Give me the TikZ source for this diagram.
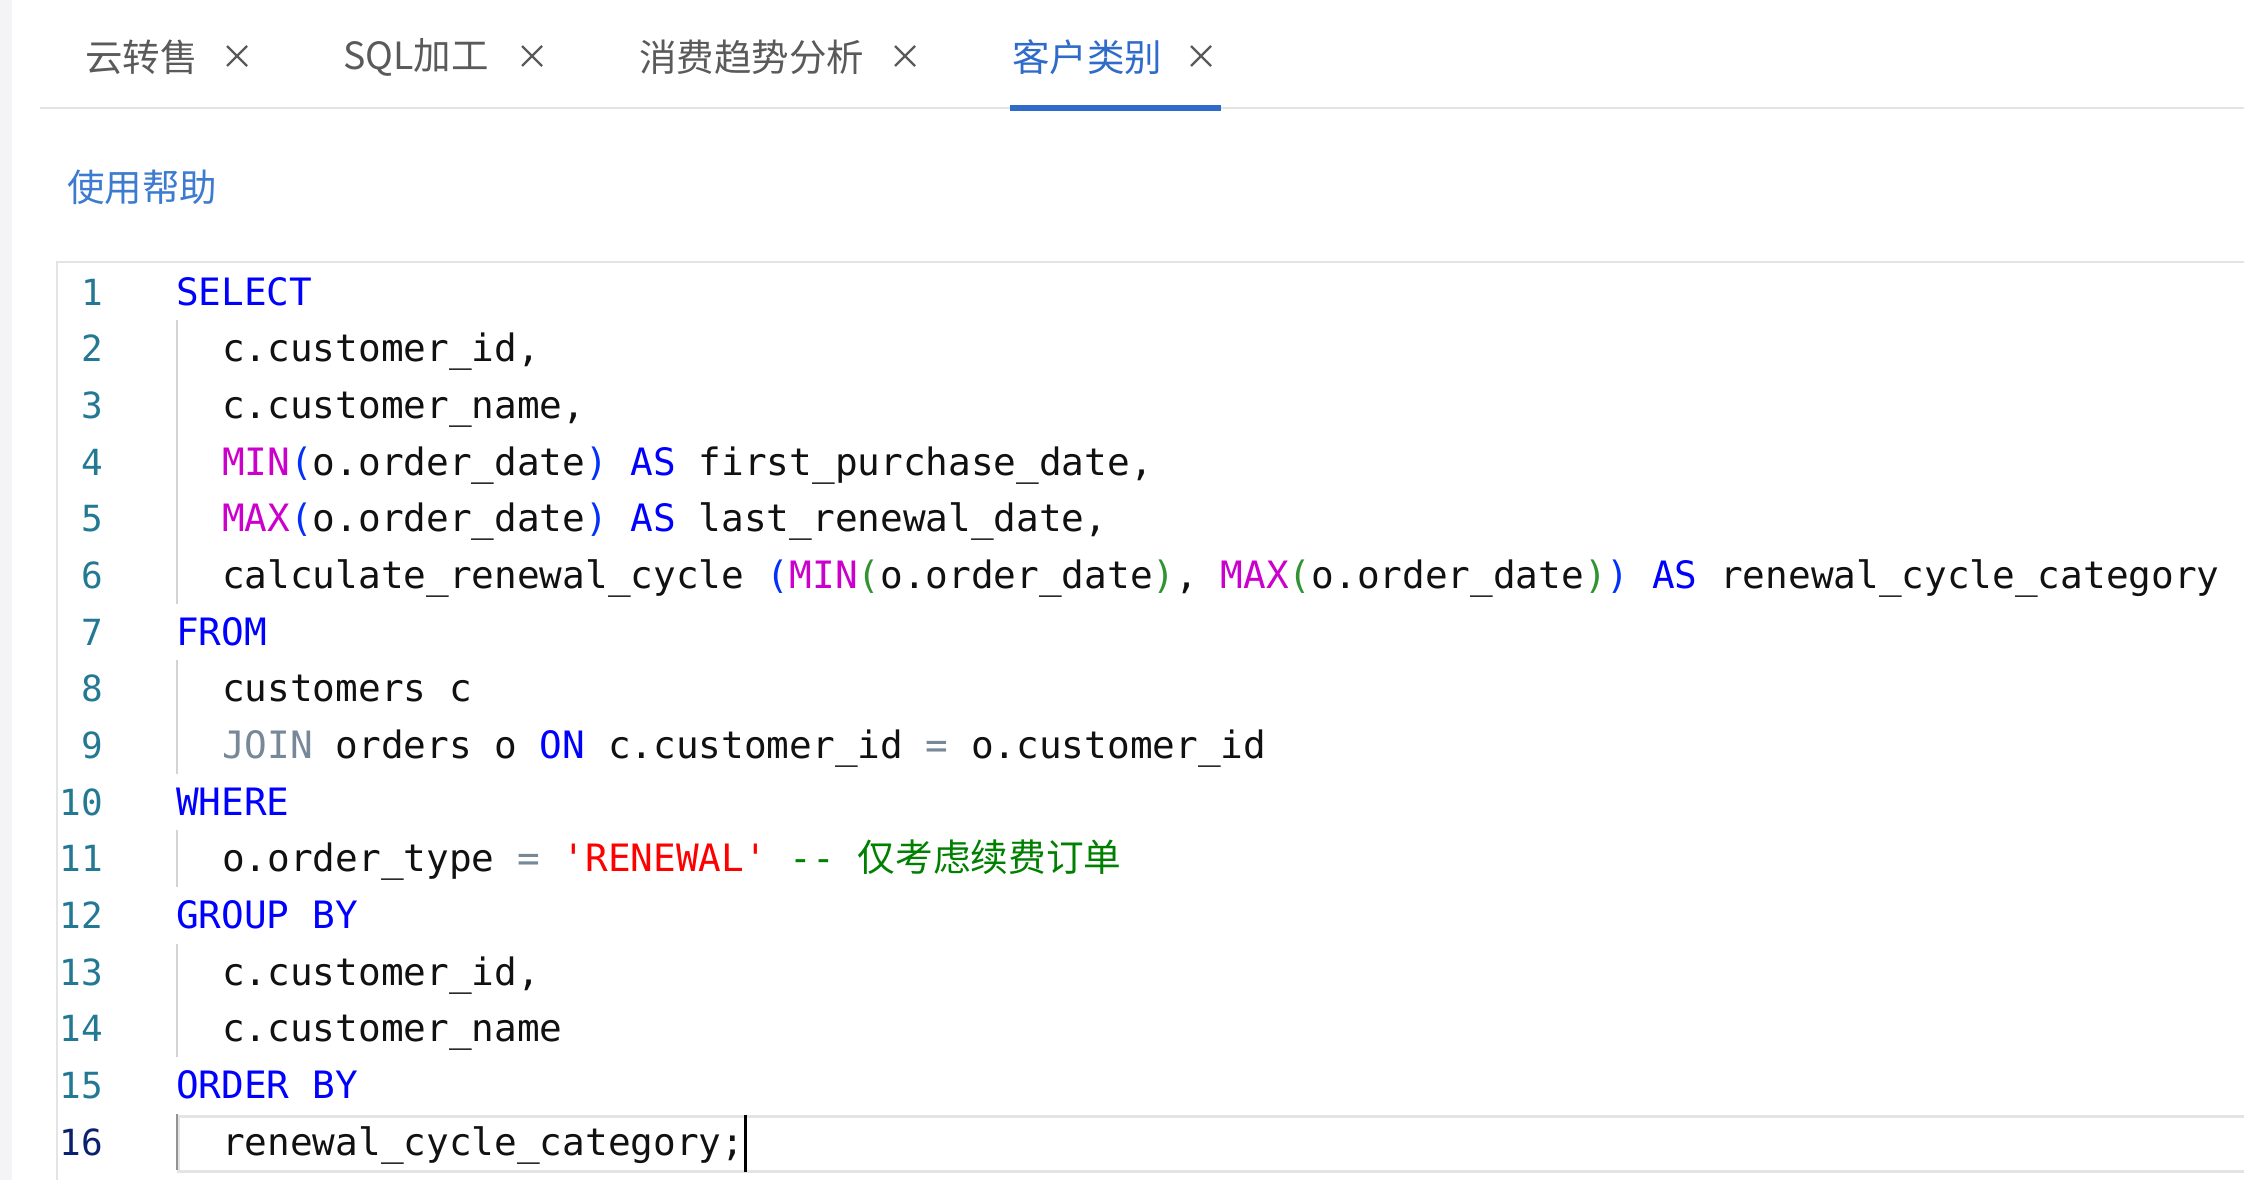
\documentclass[tikz,border=0pt]{standalone}
\usepackage{fontspec}
\setmonofont{DejaVu Sans Mono}
\newfontfamily\cjk{Noto Sans CJK SC}
\definecolor{kwc}{HTML}{0000FF}
\definecolor{fnc}{HTML}{CC00CC}
\definecolor{bra}{HTML}{0431FA}
\definecolor{brb}{HTML}{319331}
\definecolor{opc}{HTML}{778899}
\definecolor{strc}{HTML}{FF0000}
\definecolor{cmc}{HTML}{008000}
\definecolor{txc}{HTML}{111111}
\definecolor{lnc}{HTML}{237893}
\definecolor{lnact}{HTML}{0B216F}
\definecolor{guidec}{HTML}{D3D3D3}
\definecolor{guideact}{HTML}{939393}
\definecolor{tabgray}{HTML}{5A5A5A}
\definecolor{tabblue}{HTML}{2F6BC8}
\definecolor{helpblue}{HTML}{3C7BD0}
\definecolor{sepc}{HTML}{E4E4E4}
\definecolor{stripc}{HTML}{F4F4F6}
\newcommand\skw[1]{\textcolor{kwc}{#1}}
\newcommand\sfn[1]{\textcolor{fnc}{#1}}
\newcommand\sbA[1]{\textcolor{bra}{#1}}
\newcommand\sbB[1]{\textcolor{brb}{#1}}
\newcommand\sop[1]{\textcolor{opc}{#1}}
\newcommand\sstr[1]{\textcolor{strc}{#1}}
\newcommand\scm[1]{\textcolor{cmc}{#1}}
\tikzset{
  tabtxt/.style={anchor=west,inner sep=0pt,font=\cjk\fontsize{37.5}{42}\selectfont,text=tabgray},
  codetxt/.style={anchor=base west,inner sep=0pt,font=\ttfamily\fontsize{37.7}{45}\selectfont,text=txc},
  lnum/.style={anchor=base east,inner sep=0pt,font=\ttfamily\fontsize{36}{45}\selectfont,text=lnc},
  guide/.style={draw=guidec,line width=1.6pt},
  closex/.style={draw=tabgray,line width=2.4pt},
}
\begin{document}
\begin{tikzpicture}[x=1pt,y=-1pt]
\useasboundingbox (0,0) rectangle (2244,1180);
\fill[white] (0,0) rectangle (2244,1180);
\fill[stripc] (0,0) rectangle (12,1180);
% tab bar
\draw[sepc,line width=2.5pt] (40,108) -- (2244,108);
\fill[tabblue] (1010,105) rectangle (1221,111);
\node[tabtxt] (t1) at (85,57) {云转售};
\node[tabtxt] (t2) at (343,57) {SQL加工};
\node[tabtxt] (t3) at (639,57) {消费趋势分析};
\node[tabtxt,text=tabblue] (t4) at (1012,57) {客户类别};
\foreach \cx in {237,532,905,1201}{
  \draw[closex] (\cx-10,46) -- (\cx+10,66);
  \draw[closex] (\cx-10,66) -- (\cx+10,46);
}
\node[tabtxt,text=helpblue] (help) at (67,187) {使用帮助};
% editor frame
\draw[sepc,line width=2pt] (57,1180) -- (57,262) -- (2244,262);
% active line highlight
\draw[draw=sepc,line width=3pt] (2250,1116) -- (178,1116) -- (178,1171) -- (2250,1171);
% indent guides
\draw[guide] (177,320.3) -- (177,603.7);
\draw[guide] (177,660.3) -- (177,773.7);
\draw[guide] (177,830.3) -- (177,887.0);
\draw[guide] (177,943.7) -- (177,1057.0);
\draw[guide,draw=guideact] (177,1113.7) -- (177,1170.3);
% line numbers
\node[lnum] (n1) at (103,305.0) {1};
\node[lnum] (n2) at (103,361.7) {2};
\node[lnum] (n3) at (103,418.3) {3};
\node[lnum] (n4) at (103,475.0) {4};
\node[lnum] (n5) at (103,531.7) {5};
\node[lnum] (n6) at (103,588.3) {6};
\node[lnum] (n7) at (103,645.0) {7};
\node[lnum] (n8) at (103,701.7) {8};
\node[lnum] (n9) at (103,758.3) {9};
\node[lnum] (n10) at (103,815.0) {10};
\node[lnum] (n11) at (103,871.7) {11};
\node[lnum] (n12) at (103,928.3) {12};
\node[lnum] (n13) at (103,985.0) {13};
\node[lnum] (n14) at (103,1041.7) {14};
\node[lnum] (n15) at (103,1098.3) {15};
\node[lnum,text=lnact] (n16) at (103,1155.0) {16};
% code
\node[codetxt] (l1) at (176,305.0) {\skw{SELECT}};
\node[codetxt] (l2) at (222,361.7) {c.customer\_id,};
\node[codetxt] (l3) at (222,418.3) {c.customer\_name,};
\node[codetxt] (l4) at (222,475.0) {\sfn{MIN}\sbA{(}o.order\_date\sbA{)} \skw{AS} first\_purchase\_date,};
\node[codetxt] (l5) at (222,531.7) {\sfn{MAX}\sbA{(}o.order\_date\sbA{)} \skw{AS} last\_renewal\_date,};
\node[codetxt] (l6) at (222,588.3) {calculate\_renewal\_cycle \sbA{(}\sfn{MIN}\sbB{(}o.order\_date\sbB{)}, \sfn{MAX}\sbB{(}o.order\_date\sbB{)}\sbA{)} \skw{AS} renewal\_cycle\_category};
\node[codetxt] (l7) at (176,645.0) {\skw{FROM}};
\node[codetxt] (l8) at (222,701.7) {customers c};
\node[codetxt] (l9) at (222,758.3) {\sop{JOIN} orders o \skw{ON} c.customer\_id \sop{=} o.customer\_id};
\node[codetxt] (l10) at (176,815.0) {\skw{WHERE}};
\node[codetxt] (l11) at (222,871.7) {o.order\_type \sop{=} \sstr{\textquotesingle RENEWAL\textquotesingle} \scm{-{}- {\cjk 仅考虑续费订单}}};
\node[codetxt] (l12) at (176,928.3) {\skw{GROUP BY}};
\node[codetxt] (l13) at (222,985.0) {c.customer\_id,};
\node[codetxt] (l14) at (222,1041.7) {c.customer\_name};
\node[codetxt] (l15) at (176,1098.3) {\skw{ORDER BY}};
\node[codetxt] (l16) at (222,1155.0) {renewal\_cycle\_category;};
% cursor
\draw[black,line width=3pt] (l16.base east) ++(1.5,17) -- ++(0,-57);
\end{tikzpicture}
\end{document}
